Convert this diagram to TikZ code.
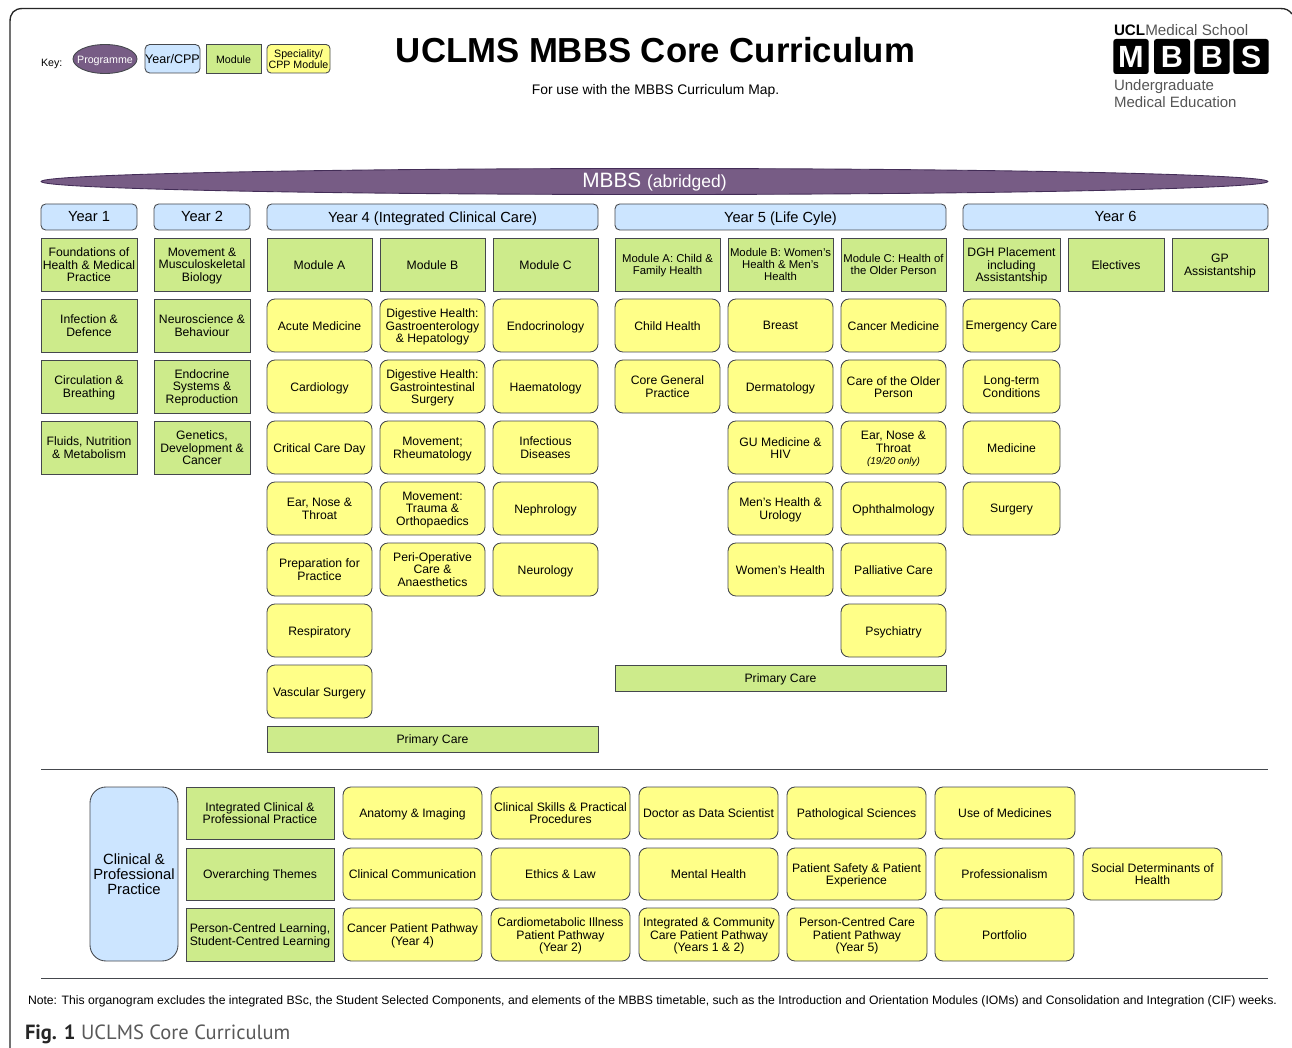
\documentclass[tikz,border=0pt]{standalone}
\usepackage{fontspec}
\setmainfont{Liberation Sans}
\newfontfamily\figfont{PT Sans}
\usetikzlibrary{shapes.geometric}
\definecolor{yelc}{HTML}{FFFF88}
\definecolor{grnc}{HTML}{CDEB8B}
\definecolor{bluc}{HTML}{CCE5FF}
\definecolor{purc}{HTML}{775C85}
\definecolor{purd}{HTML}{432D57}
\definecolor{strk}{HTML}{45484D}
\definecolor{logog}{HTML}{555555}
\tikzset{
 base/.style={draw=strk,line width=0.65pt,inner sep=0pt,outer sep=0pt,text=black,font=\fontsize{9.15}{9}\selectfont},
 yel/.style={base,fill=yelc,rounded corners=6pt},
 grn/.style={base,fill=grnc},
 blu/.style={base,fill=bluc,rounded corners=3.5pt,font=\fontsize{11}{11}\selectfont},
 bigblu/.style={blu,rounded corners=12pt,font=\fontsize{11.1}{11}\selectfont},
 lbl/.style={inner sep=0pt,outer sep=0pt,align=center},
 rulel/.style={draw=strk,line width=0.75pt},
 logobox/.style={fill=black,rounded corners=2pt,inner sep=0pt,outer sep=0pt,text=white,font=\fontsize{23}{23}\selectfont\bfseries,minimum height=26.25pt,text height=16.5pt,text depth=0pt},
 logotx/.style={inner sep=0pt,outer sep=0pt,anchor=base west,text=logog,font=\fontsize{11.25}{11.25}\selectfont}
}
\newcommand{\tx}[1]{\raisebox{-1.5pt}[\height][\depth]{\begin{tabular}{@{}c@{}}#1\end{tabular}}}
\newcommand{\bx}[7]{\node[#2,minimum width={(#5-#3)*0.75pt},minimum height={(#6-#4)*0.75pt}] (#1) at ({(#3+#5)/2},{(#4+#6)/2}) {\tx{#7}};}
\begin{document}
\begin{tikzpicture}[x=0.75pt,y=-0.75pt]
\useasboundingbox (0,0) rectangle (1292,1048);
% frame
\draw[line width=1pt,draw=black!85] (10,1048) -- (10,22) .. controls (10,13) and (14,8.5) .. (23,8.5) -- (1280,8.5) .. controls (1286,8.5) and (1289,10) .. (1292,14);
% header
\node[lbl,anchor=base west,font=\fontsize{8}{8}\selectfont] (keyl) at (41,66.5) {Key:};
\node[draw=strk,fill=purc,ellipse,line width=0.65pt,inner sep=0pt,outer sep=0pt,minimum width=48pt,minimum height=21.75pt,text=white,font=\fontsize{8}{8}\selectfont] (keyp) at (105,59) {\makebox[0pt][c]{\raisebox{-1.5pt}[\height][\depth]{Programme}}};
\bx{keyy}{blu,font=\fontsize{9.4}{9.6}\selectfont}{145}{44.5}{200}{73}{Year/CPP}
\bx{keym}{grn,font=\fontsize{8}{8}\selectfont}{206}{44.5}{261}{73}{Module}
\bx{keys}{yel,rounded corners=3pt,font=\fontsize{8}{7.8}\selectfont}{267}{44.5}{330}{73}{Speciality/\\CPP Module}
\node[lbl,font=\fontsize{26.05}{26}\selectfont\bfseries] (title) at (655.5,50.5) {UCLMS MBBS Core Curriculum};
\node[lbl,font=\fontsize{10.4}{10}\selectfont] (sub) at (655.5,90.5) {For use with the MBBS Curriculum Map.};
% logo
\node[lbl,anchor=base west,text=logog,font=\fontsize{11.4}{11.4}\selectfont] (lg0) at (1114,35.5) {\textcolor{black}{\textbf{UCL}}Medical School};
\node[logobox,minimum width=26.5pt] (lgm) at (1131,56.5) {M};
\node[logobox,minimum width=27pt] (lgb1) at (1172,56.5) {B};
\node[logobox,minimum width=26.5pt] (lgb2) at (1212,56.5) {B};
\node[logobox,minimum width=26.5pt] (lgs) at (1251,56.5) {S};
\node[logotx] (lg1) at (1114,91) {Undergraduate};
\node[logotx] (lg2) at (1114,108) {Medical Education};
% MBBS
\node[draw=purd,fill=purc,ellipse,line width=0.65pt,inner sep=0pt,outer sep=0pt,minimum width=920pt,minimum height=19.5pt,text=white] (mbbs) at (654.5,181.5) {\makebox[0pt][c]{\raisebox{-4.6pt}[0pt][0pt]{\fontsize{15.6}{15}\selectfont MBBS \fontsize{13.1}{13}\selectfont (abridged)}}};
% year headers
\bx{y1}{blu}{41}{204}{137}{230}{Year 1}
\bx{y2}{blu}{154}{204}{250}{230}{Year 2}
\bx{y4}{blu}{267}{204}{598}{230}{Year 4 (Integrated Clinical Care)}
\bx{y5}{blu}{615}{204}{946}{230}{Year 5 (Life Cyle)}
\bx{y6}{blu}{963}{204}{1268}{230}{Year 6}
% Year 1
\bx{a0}{grn}{41}{238}{137}{291}{Foundations of\\Health \& Medical\\Practice}
\bx{a1}{grn}{41}{299}{137}{352}{Infection \&\\Defence}
\bx{a2}{grn}{41}{360}{137}{413}{Circulation \&\\Breathing}
\bx{a3}{grn}{41}{421}{137}{474}{Fluids, Nutrition\\\& Metabolism}
% Year 2
\bx{b0}{grn}{154}{238}{250}{291}{Movement \&\\Musculoskeletal\\Biology}
\bx{b1}{grn}{154}{299}{250}{352}{Neuroscience \&\\Behaviour}
\bx{b2}{grn}{154}{360}{250}{413}{Endocrine\\Systems \&\\Reproduction}
\bx{b3}{grn}{154}{421}{250}{474}{Genetics,\\Development \&\\Cancer}
% Year 4
\bx{c0}{grn}{267}{238}{372}{291}{Module A}
\bx{d0}{grn}{380}{238}{485}{291}{Module B}
\bx{e0}{grn}{493}{238}{598}{291}{Module C}
\bx{c1}{yel}{267}{299}{372}{352}{Acute Medicine}
\bx{c2}{yel}{267}{360}{372}{413}{Cardiology}
\bx{c3}{yel}{267}{421}{372}{474}{Critical Care Day}
\bx{c4}{yel}{267}{482}{372}{535}{Ear, Nose \&\\Throat}
\bx{c5}{yel}{267}{543}{372}{596}{Preparation for\\Practice}
\bx{c6}{yel}{267}{604}{372}{657}{Respiratory}
\bx{c7}{yel}{267}{665}{372}{718}{Vascular Surgery}
\bx{d1}{yel}{380}{299}{485}{352}{Digestive Health:\\Gastroenterology\\\& Hepatology}
\bx{d2}{yel}{380}{360}{485}{413}{Digestive Health:\\Gastrointestinal\\Surgery}
\bx{d3}{yel}{380}{421}{485}{474}{Movement;\\Rheumatology}
\bx{d4}{yel}{380}{482}{485}{535}{Movement:\\Trauma \&\\Orthopaedics}
\bx{d5}{yel}{380}{543}{485}{596}{Peri-Operative\\Care \&\\Anaesthetics}
\bx{e1}{yel}{493}{299}{598}{352}{Endocrinology}
\bx{e2}{yel}{493}{360}{598}{413}{Haematology}
\bx{e3}{yel}{493}{421}{598}{474}{Infectious\\Diseases}
\bx{e4}{yel}{493}{482}{598}{535}{Nephrology}
\bx{e5}{yel}{493}{543}{598}{596}{Neurology}
\bx{pc4}{grn}{267}{726}{598}{752}{Primary Care}
% Year 5
\bx{f0}{grn,font=\fontsize{8.5}{9}\selectfont}{615}{238}{720}{291}{Module A: Child \&\\Family Health}
\bx{g0}{grn,font=\fontsize{8.5}{9}\selectfont}{728}{238}{833}{291}{Module B: Women's\\Health \& Men's\\Health}
\bx{h0}{grn,font=\fontsize{8.5}{9}\selectfont}{841}{238}{946}{291}{Module C: Health of\\the Older Person}
\bx{f1}{yel}{615}{299}{720}{352}{Child Health}
\bx{f2}{yel}{615}{360}{720}{413}{Core General\\Practice}
\bx{g1}{yel}{728}{299}{833}{352}{Breast}
\bx{g2}{yel}{728}{360}{833}{413}{Dermatology}
\bx{g3}{yel}{728}{421}{833}{474}{GU Medicine \&\\HIV}
\bx{g4}{yel}{728}{482}{833}{535}{Men's Health \&\\Urology}
\bx{g5}{yel}{728}{543}{833}{596}{Women's Health}
\bx{h1}{yel}{841}{299}{946}{352}{Cancer Medicine}
\bx{h2}{yel}{841}{360}{946}{413}{Care of the Older\\Person}
\bx{h3}{yel}{841}{421}{946}{474}{Ear, Nose \&\\Throat\\{\fontsize{7.5}{9}\selectfont\itshape (19/20 only)}}
\bx{h4}{yel}{841}{482}{946}{535}{Ophthalmology}
\bx{h5}{yel}{841}{543}{946}{596}{Palliative Care}
\bx{h6}{yel}{841}{604}{946}{657}{Psychiatry}
\bx{pc5}{grn}{615}{665}{946}{691}{Primary Care}
% Year 6
\bx{i0}{grn}{963}{238}{1060}{291}{DGH Placement\\including\\Assistantship}
\bx{j0}{grn}{1068}{238}{1164}{291}{Electives}
\bx{k0}{grn}{1172}{238}{1268}{291}{GP\\Assistantship}
\bx{i1}{yel}{963}{299}{1060}{352}{Emergency Care}
\bx{i2}{yel}{963}{360}{1060}{413}{Long-term\\Conditions}
\bx{i3}{yel}{963}{421}{1060}{474}{Medicine}
\bx{i4}{yel}{963}{482}{1060}{535}{Surgery}
% rules
\coordinate (r1a) at (41,769); \coordinate (r1b) at (1268,769);
\coordinate (r2a) at (41,978); \coordinate (r2b) at (1268,978);
\draw[rulel] (r1a) -- (r1b);
\draw[rulel] (r2a) -- (r2b);
% lower block
\bx{cpp}{bigblu}{90}{787}{178}{961}{Clinical \&\\Professional\\Practice}
\bx{l1}{grn}{186}{787}{334}{839}{Integrated Clinical \&\\Professional Practice}
\bx{l2}{grn}{186}{848}{334}{900}{Overarching Themes}
\bx{l3}{grn}{186}{908}{334}{961}{Person-Centred Learning,\\Student-Centred Learning}
\bx{m1}{yel}{343}{787}{482}{839}{Anatomy \& Imaging}
\bx{m2}{yel}{491}{787}{630}{839}{Clinical Skills \& Practical\\Procedures}
\bx{m3}{yel}{639}{787}{778}{839}{Doctor as Data Scientist}
\bx{m4}{yel}{787}{787}{926}{839}{Pathological Sciences}
\bx{m5}{yel}{935}{787}{1075}{839}{Use of Medicines}
\bx{n1}{yel}{343}{848}{482}{900}{Clinical Communication}
\bx{n2}{yel}{491}{848}{630}{900}{Ethics \& Law}
\bx{n3}{yel}{639}{848}{778}{900}{Mental Health}
\bx{n4}{yel}{787}{848}{926}{900}{Patient Safety \& Patient\\Experience}
\bx{n5}{yel}{935}{848}{1074}{900}{Professionalism}
\bx{n6}{yel}{1083}{848}{1222}{900}{Social Determinants of\\Health}
\bx{o1}{yel}{343}{908}{482}{961}{Cancer Patient Pathway\\(Year 4)}
\bx{o2}{yel}{491}{908}{630}{961}{Cardiometabolic Illness\\Patient Pathway\\(Year 2)}
\bx{o3}{yel}{639}{908}{779}{961}{Integrated \& Community\\Care Patient Pathway\\(Years 1 \& 2)}
\bx{o4}{yel}{787}{908}{927}{961}{Person-Centred Care\\Patient Pathway\\(Year 5)}
\bx{o5}{yel}{935}{908}{1074}{961}{Portfolio}
% note
\node[lbl,anchor=base west,font=\fontsize{9.14}{9}\selectfont] (note) at (28,1004) {Note: This organogram excludes the integrated BSc, the Student Selected Components, and elements of the MBBS timetable, such as the Introduction and Orientation Modules (IOMs) and Consolidation and Integration (CIF) weeks.};
\node[lbl,anchor=base west,text=black!65,font=\figfont\fontsize{15.4}{16}\selectfont] (fig) at (25,1039) {\textcolor{black!85}{\textbf{Fig. 1}} UCLMS Core Curriculum};
\end{tikzpicture}
\end{document}
